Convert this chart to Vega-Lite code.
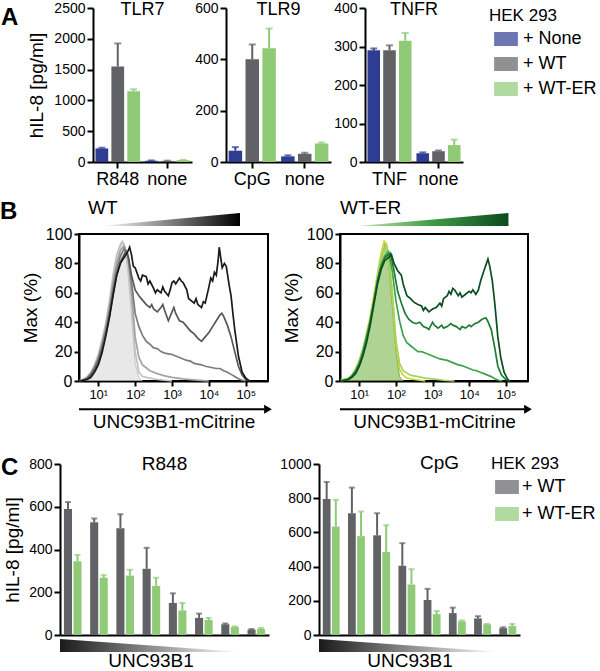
{
"$schema":"https://vega.github.io/schema/vega-lite/v6.json",
"padding":{"left":0,"top":1,"right":0,"bottom":0},
"config":{"font":"Liberation Sans","view":{"stroke":null},
 "axis":{"domainColor":"black","domainWidth":2,"tickColor":"black","tickWidth":2,"tickSize":6,"labelColor":"black","titleColor":"black","grid":false,"labelFontSize":14,"titleFontSize":19,"titleFontWeight":"normal","labelPadding":2,"labelOverlap":false},
 "title":{"fontSize":19,"fontWeight":"normal","color":"black"},
 "legend":{"titleFontSize":17,"titleFontWeight":"normal","labelFontSize":18,"titleColor":"black","labelColor":"black"}},
"datasets":{
"a":[
{"p":"TLR7","stim":"R848","cell":"None","v":220,"e":232},{"p":"TLR7","stim":"R848","cell":"WT","v":1550,"e":1925},{"p":"TLR7","stim":"R848","cell":"WT-ER","v":1150,"e":1180},
{"p":"TLR7","stim":"none","cell":"None","v":20,"e":25},{"p":"TLR7","stim":"none","cell":"WT","v":18,"e":22},{"p":"TLR7","stim":"none","cell":"WT-ER","v":30,"e":35},
{"p":"TLR9","stim":"CpG","cell":"None","v":44,"e":58},{"p":"TLR9","stim":"CpG","cell":"WT","v":400,"e":458},{"p":"TLR9","stim":"CpG","cell":"WT-ER","v":443,"e":520},
{"p":"TLR9","stim":"none","cell":"None","v":22,"e":26},{"p":"TLR9","stim":"none","cell":"WT","v":32,"e":36},{"p":"TLR9","stim":"none","cell":"WT-ER","v":72,"e":76},
{"p":"TNFR","stim":"TNF","cell":"None","v":290,"e":295},{"p":"TNFR","stim":"TNF","cell":"WT","v":290,"e":303},{"p":"TNFR","stim":"TNF","cell":"WT-ER","v":315,"e":335},
{"p":"TNFR","stim":"none","cell":"None","v":23,"e":25},{"p":"TNFR","stim":"none","cell":"WT","v":28,"e":30},{"p":"TNFR","stim":"none","cell":"WT-ER","v":44,"e":58}],
"c":[
{"p":"R848","g":1,"cell":"WT","v":590,"e":622},{"p":"R848","g":1,"cell":"WT-ER","v":345,"e":375},
{"p":"R848","g":2,"cell":"WT","v":528,"e":545},{"p":"R848","g":2,"cell":"WT-ER","v":268,"e":280},
{"p":"R848","g":3,"cell":"WT","v":500,"e":565},{"p":"R848","g":3,"cell":"WT-ER","v":278,"e":305},
{"p":"R848","g":4,"cell":"WT","v":310,"e":408},{"p":"R848","g":4,"cell":"WT-ER","v":230,"e":268},
{"p":"R848","g":5,"cell":"WT","v":150,"e":195},{"p":"R848","g":5,"cell":"WT-ER","v":115,"e":150},
{"p":"R848","g":6,"cell":"WT","v":80,"e":100},{"p":"R848","g":6,"cell":"WT-ER","v":70,"e":80},
{"p":"R848","g":7,"cell":"WT","v":50,"e":54},{"p":"R848","g":7,"cell":"WT-ER","v":37,"e":40},
{"p":"R848","g":8,"cell":"WT","v":25,"e":28},{"p":"R848","g":8,"cell":"WT-ER","v":28,"e":33},
{"p":"CpG","g":1,"cell":"WT","v":795,"e":895},{"p":"CpG","g":1,"cell":"WT-ER","v":635,"e":790},
{"p":"CpG","g":2,"cell":"WT","v":712,"e":862},{"p":"CpG","g":2,"cell":"WT-ER","v":578,"e":722},
{"p":"CpG","g":3,"cell":"WT","v":583,"e":712},{"p":"CpG","g":3,"cell":"WT-ER","v":485,"e":642},
{"p":"CpG","g":4,"cell":"WT","v":405,"e":537},{"p":"CpG","g":4,"cell":"WT-ER","v":295,"e":385},
{"p":"CpG","g":5,"cell":"WT","v":205,"e":270},{"p":"CpG","g":5,"cell":"WT-ER","v":122,"e":140},
{"p":"CpG","g":6,"cell":"WT","v":128,"e":160},{"p":"CpG","g":6,"cell":"WT-ER","v":80,"e":85},
{"p":"CpG","g":7,"cell":"WT","v":97,"e":110},{"p":"CpG","g":7,"cell":"WT-ER","v":62,"e":65},
{"p":"CpG","g":8,"cell":"WT","v":40,"e":45},{"p":"CpG","g":8,"cell":"WT-ER","v":52,"e":65}],
"wt":[
{"s":"c0","x":3.16,"y":0},{"s":"c0","x":3.98,"y":0.5},{"s":"c0","x":5.01,"y":2},{"s":"c0","x":6.31,"y":5},{"s":"c0","x":7.94,"y":10},{"s":"c0","x":10,"y":17},{"s":"c0","x":12.6,"y":26},{"s":"c0","x":15.8,"y":36},{"s":"c0","x":20,"y":50},{"s":"c0","x":25.1,"y":68},{"s":"c0","x":31.6,"y":82},{"s":"c0","x":39.8,"y":91},{"s":"c0","x":44.7,"y":94},{"s":"c0","x":50.1,"y":92},{"s":"c0","x":63.1,"y":75},{"s":"c0","x":79.4,"y":45},{"s":"c0","x":100,"y":12},{"s":"c0","x":126,"y":2},{"s":"c0","x":158,"y":0},
{"s":"c1","x":3.16,"y":0.5},{"s":"c1","x":3.98,"y":1},{"s":"c1","x":5.01,"y":3},{"s":"c1","x":6.31,"y":6},{"s":"c1","x":7.94,"y":11},{"s":"c1","x":10,"y":18},{"s":"c1","x":12.6,"y":28},{"s":"c1","x":15.8,"y":39},{"s":"c1","x":20,"y":54},{"s":"c1","x":25.1,"y":72},{"s":"c1","x":31.6,"y":86},{"s":"c1","x":39.8,"y":93},{"s":"c1","x":44.7,"y":95},{"s":"c1","x":50.1,"y":93},{"s":"c1","x":63.1,"y":80},{"s":"c1","x":79.4,"y":55},{"s":"c1","x":100,"y":20},{"s":"c1","x":126,"y":6},{"s":"c1","x":158,"y":3},{"s":"c1","x":251,"y":2},{"s":"c1","x":398,"y":1},{"s":"c1","x":631,"y":0.5},{"s":"c1","x":1000,"y":0},
{"s":"c2","x":3.16,"y":0},{"s":"c2","x":3.98,"y":1},{"s":"c2","x":5.01,"y":2},{"s":"c2","x":6.31,"y":5},{"s":"c2","x":7.94,"y":10},{"s":"c2","x":10,"y":16},{"s":"c2","x":12.6,"y":25},{"s":"c2","x":15.8,"y":36},{"s":"c2","x":20,"y":50},{"s":"c2","x":25.1,"y":67},{"s":"c2","x":31.6,"y":80},{"s":"c2","x":39.8,"y":89},{"s":"c2","x":50.1,"y":92},{"s":"c2","x":63.1,"y":86},{"s":"c2","x":79.4,"y":62},{"s":"c2","x":100,"y":30},{"s":"c2","x":126,"y":16},{"s":"c2","x":158,"y":11},{"s":"c2","x":200,"y":9},{"s":"c2","x":251,"y":7},{"s":"c2","x":398,"y":5},{"s":"c2","x":631,"y":3.5},{"s":"c2","x":1000,"y":2.5},{"s":"c2","x":1995,"y":1.5},{"s":"c2","x":3981,"y":0.7},{"s":"c2","x":10000,"y":0},
{"s":"c3","x":3.16,"y":0},{"s":"c3","x":3.98,"y":1},{"s":"c3","x":5.01,"y":2},{"s":"c3","x":6.31,"y":5},{"s":"c3","x":7.94,"y":9},{"s":"c3","x":10,"y":15},{"s":"c3","x":12.6,"y":24},{"s":"c3","x":15.8,"y":34},{"s":"c3","x":20,"y":47},{"s":"c3","x":25.1,"y":63},{"s":"c3","x":31.6,"y":76},{"s":"c3","x":39.8,"y":85},{"s":"c3","x":50.1,"y":90},{"s":"c3","x":63.1,"y":86},{"s":"c3","x":79.4,"y":68},{"s":"c3","x":100,"y":46},{"s":"c3","x":126,"y":37},{"s":"c3","x":158,"y":31},{"s":"c3","x":200,"y":27},{"s":"c3","x":251,"y":25},{"s":"c3","x":316,"y":22.5},{"s":"c3","x":398,"y":22},{"s":"c3","x":501,"y":20},{"s":"c3","x":631,"y":19},{"s":"c3","x":794,"y":18.5},{"s":"c3","x":1000,"y":18},{"s":"c3","x":1259,"y":17},{"s":"c3","x":1585,"y":16},{"s":"c3","x":1995,"y":15},{"s":"c3","x":2512,"y":14},{"s":"c3","x":3162,"y":13.5},{"s":"c3","x":3981,"y":12},{"s":"c3","x":5012,"y":11.5},{"s":"c3","x":6310,"y":11},{"s":"c3","x":7943,"y":10},{"s":"c3","x":10000,"y":9.5},{"s":"c3","x":12589,"y":9},{"s":"c3","x":15849,"y":8.5},{"s":"c3","x":19953,"y":8.5},{"s":"c3","x":25119,"y":7},{"s":"c3","x":31623,"y":6},{"s":"c3","x":39811,"y":4.5},{"s":"c3","x":50119,"y":3},{"s":"c3","x":63096,"y":1.5},{"s":"c3","x":79433,"y":0.5},{"s":"c3","x":100000,"y":0},
{"s":"c4","x":3.16,"y":0},{"s":"c4","x":3.98,"y":0.5},{"s":"c4","x":5.01,"y":1.5},{"s":"c4","x":6.31,"y":4},{"s":"c4","x":7.94,"y":8},{"s":"c4","x":10,"y":13},{"s":"c4","x":12.6,"y":21},{"s":"c4","x":15.8,"y":31},{"s":"c4","x":20,"y":44},{"s":"c4","x":25.1,"y":59},{"s":"c4","x":31.6,"y":72},{"s":"c4","x":39.8,"y":81},{"s":"c4","x":50.1,"y":86},{"s":"c4","x":56.2,"y":88},{"s":"c4","x":66.1,"y":84},{"s":"c4","x":79.4,"y":72},{"s":"c4","x":100,"y":62},{"s":"c4","x":126,"y":58},{"s":"c4","x":158,"y":55},{"s":"c4","x":200,"y":52},{"s":"c4","x":251,"y":50},{"s":"c4","x":282,"y":52},{"s":"c4","x":316,"y":49},{"s":"c4","x":398,"y":47},{"s":"c4","x":501,"y":50},{"s":"c4","x":562,"y":52},{"s":"c4","x":631,"y":48},{"s":"c4","x":794,"y":41},{"s":"c4","x":1000,"y":47},{"s":"c4","x":1122,"y":50},{"s":"c4","x":1259,"y":46},{"s":"c4","x":1585,"y":41},{"s":"c4","x":1995,"y":40},{"s":"c4","x":2512,"y":37},{"s":"c4","x":3162,"y":34},{"s":"c4","x":3981,"y":32},{"s":"c4","x":5012,"y":29},{"s":"c4","x":6310,"y":27},{"s":"c4","x":7943,"y":30},{"s":"c4","x":10000,"y":33},{"s":"c4","x":12589,"y":37},{"s":"c4","x":15849,"y":41},{"s":"c4","x":19953,"y":45},{"s":"c4","x":22387,"y":46},{"s":"c4","x":25119,"y":44},{"s":"c4","x":31623,"y":38},{"s":"c4","x":39811,"y":30},{"s":"c4","x":50119,"y":20},{"s":"c4","x":63096,"y":10},{"s":"c4","x":79433,"y":4},{"s":"c4","x":100000,"y":1},{"s":"c4","x":125893,"y":0},
{"s":"c5","x":3.16,"y":0},{"s":"c5","x":3.98,"y":0.5},{"s":"c5","x":5.01,"y":1},{"s":"c5","x":6.31,"y":2.5},{"s":"c5","x":7.94,"y":6},{"s":"c5","x":10,"y":11},{"s":"c5","x":12.6,"y":19},{"s":"c5","x":15.8,"y":30},{"s":"c5","x":20,"y":43},{"s":"c5","x":25.1,"y":58},{"s":"c5","x":31.6,"y":72},{"s":"c5","x":39.8,"y":80},{"s":"c5","x":50.1,"y":84},{"s":"c5","x":63.1,"y":88},{"s":"c5","x":70.8,"y":91},{"s":"c5","x":79.4,"y":86},{"s":"c5","x":89.1,"y":78},{"s":"c5","x":100,"y":77},{"s":"c5","x":126,"y":70},{"s":"c5","x":141,"y":68},{"s":"c5","x":158,"y":72},{"s":"c5","x":200,"y":71},{"s":"c5","x":224,"y":66},{"s":"c5","x":251,"y":68},{"s":"c5","x":316,"y":63},{"s":"c5","x":355,"y":60},{"s":"c5","x":398,"y":62},{"s":"c5","x":501,"y":60},{"s":"c5","x":562,"y":64},{"s":"c5","x":631,"y":61},{"s":"c5","x":794,"y":58},{"s":"c5","x":891,"y":62},{"s":"c5","x":1000,"y":67},{"s":"c5","x":1122,"y":68},{"s":"c5","x":1259,"y":66},{"s":"c5","x":1585,"y":70},{"s":"c5","x":1778,"y":68},{"s":"c5","x":1995,"y":67},{"s":"c5","x":2512,"y":62},{"s":"c5","x":2818,"y":56},{"s":"c5","x":3162,"y":55},{"s":"c5","x":3981,"y":53},{"s":"c5","x":4467,"y":56},{"s":"c5","x":5012,"y":52},{"s":"c5","x":6310,"y":50},{"s":"c5","x":7079,"y":54},{"s":"c5","x":7943,"y":53},{"s":"c5","x":10000,"y":64},{"s":"c5","x":11220,"y":70},{"s":"c5","x":12589,"y":68},{"s":"c5","x":14125,"y":74},{"s":"c5","x":15849,"y":72},{"s":"c5","x":17783,"y":82},{"s":"c5","x":19055,"y":91},{"s":"c5","x":20893,"y":84},{"s":"c5","x":22909,"y":77},{"s":"c5","x":26303,"y":80},{"s":"c5","x":29512,"y":78},{"s":"c5","x":35481,"y":65},{"s":"c5","x":39811,"y":58},{"s":"c5","x":44668,"y":46},{"s":"c5","x":50119,"y":35},{"s":"c5","x":63096,"y":17},{"s":"c5","x":79433,"y":6},{"s":"c5","x":100000,"y":2},{"s":"c5","x":125893,"y":0}],
"wter":[
{"s":"g0","x":3.16,"y":0},{"s":"g0","x":3.98,"y":0.5},{"s":"g0","x":5.01,"y":1.5},{"s":"g0","x":6.31,"y":4},{"s":"g0","x":7.94,"y":8},{"s":"g0","x":10,"y":14},{"s":"g0","x":12.6,"y":22},{"s":"g0","x":15.8,"y":32},{"s":"g0","x":20,"y":42},{"s":"g0","x":25.1,"y":55},{"s":"g0","x":31.6,"y":70},{"s":"g0","x":39.8,"y":83},{"s":"g0","x":50.1,"y":93},{"s":"g0","x":56.2,"y":91},{"s":"g0","x":63.1,"y":80},{"s":"g0","x":79.4,"y":52},{"s":"g0","x":100,"y":20},{"s":"g0","x":126,"y":3},{"s":"g0","x":158,"y":0},
{"s":"g1","x":3.16,"y":0.5},{"s":"g1","x":5.01,"y":2},{"s":"g1","x":6.31,"y":4},{"s":"g1","x":7.94,"y":8},{"s":"g1","x":10,"y":14},{"s":"g1","x":12.6,"y":22},{"s":"g1","x":15.8,"y":32},{"s":"g1","x":20,"y":44},{"s":"g1","x":25.1,"y":58},{"s":"g1","x":31.6,"y":73},{"s":"g1","x":39.8,"y":87},{"s":"g1","x":47.9,"y":95},{"s":"g1","x":56.2,"y":93},{"s":"g1","x":63.1,"y":85},{"s":"g1","x":79.4,"y":60},{"s":"g1","x":100,"y":25},{"s":"g1","x":126,"y":8},{"s":"g1","x":158,"y":4},{"s":"g1","x":200,"y":2},{"s":"g1","x":316,"y":1},{"s":"g1","x":631,"y":0},
{"s":"g2","x":3.16,"y":0.5},{"s":"g2","x":5.01,"y":1.5},{"s":"g2","x":6.31,"y":3.5},{"s":"g2","x":7.94,"y":7},{"s":"g2","x":10,"y":13},{"s":"g2","x":12.6,"y":21},{"s":"g2","x":15.8,"y":31},{"s":"g2","x":20,"y":42},{"s":"g2","x":25.1,"y":56},{"s":"g2","x":31.6,"y":71},{"s":"g2","x":39.8,"y":84},{"s":"g2","x":52.5,"y":92},{"s":"g2","x":63.1,"y":86},{"s":"g2","x":79.4,"y":62},{"s":"g2","x":100,"y":28},{"s":"g2","x":126,"y":12},{"s":"g2","x":158,"y":7},{"s":"g2","x":251,"y":4},{"s":"g2","x":398,"y":3},{"s":"g2","x":631,"y":2},{"s":"g2","x":1000,"y":1.5},{"s":"g2","x":1995,"y":0.5},{"s":"g2","x":3981,"y":0},
{"s":"g3","x":3.16,"y":0},{"s":"g3","x":3.98,"y":0.5},{"s":"g3","x":5.01,"y":1.5},{"s":"g3","x":6.31,"y":3.5},{"s":"g3","x":7.94,"y":7},{"s":"g3","x":10,"y":12},{"s":"g3","x":12.6,"y":20},{"s":"g3","x":15.8,"y":30},{"s":"g3","x":20,"y":41},{"s":"g3","x":25.1,"y":54},{"s":"g3","x":31.6,"y":68},{"s":"g3","x":39.8,"y":79},{"s":"g3","x":50.1,"y":85},{"s":"g3","x":63.1,"y":88},{"s":"g3","x":79.4,"y":75},{"s":"g3","x":100,"y":55},{"s":"g3","x":126,"y":41},{"s":"g3","x":158,"y":31},{"s":"g3","x":200,"y":26},{"s":"g3","x":251,"y":24},{"s":"g3","x":316,"y":22},{"s":"g3","x":398,"y":20},{"s":"g3","x":501,"y":20},{"s":"g3","x":631,"y":19},{"s":"g3","x":794,"y":18},{"s":"g3","x":1000,"y":17},{"s":"g3","x":1259,"y":16},{"s":"g3","x":1585,"y":15},{"s":"g3","x":1995,"y":14.5},{"s":"g3","x":2512,"y":14},{"s":"g3","x":3162,"y":13},{"s":"g3","x":3981,"y":12},{"s":"g3","x":5012,"y":11},{"s":"g3","x":6310,"y":10.5},{"s":"g3","x":7943,"y":9.5},{"s":"g3","x":10000,"y":8.5},{"s":"g3","x":12589,"y":7.5},{"s":"g3","x":15849,"y":7},{"s":"g3","x":19953,"y":6},{"s":"g3","x":25119,"y":5},{"s":"g3","x":31623,"y":4},{"s":"g3","x":39811,"y":3},{"s":"g3","x":50119,"y":1.5},{"s":"g3","x":63096,"y":0.5},{"s":"g3","x":79433,"y":0},
{"s":"g4","x":3.16,"y":0},{"s":"g4","x":3.98,"y":0.5},{"s":"g4","x":5.01,"y":1},{"s":"g4","x":6.31,"y":3},{"s":"g4","x":7.94,"y":6},{"s":"g4","x":10,"y":11},{"s":"g4","x":12.6,"y":18},{"s":"g4","x":15.8,"y":28},{"s":"g4","x":20,"y":40},{"s":"g4","x":25.1,"y":54},{"s":"g4","x":31.6,"y":68},{"s":"g4","x":39.8,"y":78},{"s":"g4","x":50.1,"y":84},{"s":"g4","x":70.8,"y":87},{"s":"g4","x":89.1,"y":75},{"s":"g4","x":112,"y":61},{"s":"g4","x":141,"y":53},{"s":"g4","x":178,"y":46},{"s":"g4","x":224,"y":42},{"s":"g4","x":282,"y":40},{"s":"g4","x":355,"y":39},{"s":"g4","x":447,"y":40},{"s":"g4","x":562,"y":37},{"s":"g4","x":708,"y":36},{"s":"g4","x":794,"y":35},{"s":"g4","x":1000,"y":40},{"s":"g4","x":1122,"y":38},{"s":"g4","x":1413,"y":36},{"s":"g4","x":1778,"y":38},{"s":"g4","x":1995,"y":36},{"s":"g4","x":2512,"y":37},{"s":"g4","x":3162,"y":39},{"s":"g4","x":3548,"y":38},{"s":"g4","x":4467,"y":37},{"s":"g4","x":5623,"y":35},{"s":"g4","x":6310,"y":37},{"s":"g4","x":7943,"y":36},{"s":"g4","x":10000,"y":38},{"s":"g4","x":11220,"y":37},{"s":"g4","x":14125,"y":39},{"s":"g4","x":17783,"y":40},{"s":"g4","x":22387,"y":42},{"s":"g4","x":28184,"y":43},{"s":"g4","x":31623,"y":41},{"s":"g4","x":39811,"y":35},{"s":"g4","x":50119,"y":22},{"s":"g4","x":60256,"y":10},{"s":"g4","x":75858,"y":4},{"s":"g4","x":100000,"y":1},{"s":"g4","x":125893,"y":0},
{"s":"g5","x":3.16,"y":0},{"s":"g5","x":5.01,"y":1},{"s":"g5","x":6.31,"y":2.5},{"s":"g5","x":7.94,"y":5},{"s":"g5","x":10,"y":10},{"s":"g5","x":12.6,"y":17},{"s":"g5","x":15.8,"y":26},{"s":"g5","x":20,"y":38},{"s":"g5","x":25.1,"y":52},{"s":"g5","x":31.6,"y":66},{"s":"g5","x":39.8,"y":76},{"s":"g5","x":50.1,"y":82},{"s":"g5","x":63.1,"y":84},{"s":"g5","x":75.9,"y":86},{"s":"g5","x":89.1,"y":80},{"s":"g5","x":112,"y":75},{"s":"g5","x":141,"y":72},{"s":"g5","x":158,"y":66},{"s":"g5","x":200,"y":58},{"s":"g5","x":251,"y":56},{"s":"g5","x":316,"y":53.5},{"s":"g5","x":398,"y":52},{"s":"g5","x":501,"y":51},{"s":"g5","x":562,"y":48},{"s":"g5","x":631,"y":50},{"s":"g5","x":794,"y":47},{"s":"g5","x":1000,"y":49},{"s":"g5","x":1259,"y":50},{"s":"g5","x":1585,"y":53},{"s":"g5","x":1778,"y":51},{"s":"g5","x":1995,"y":56},{"s":"g5","x":2512,"y":58},{"s":"g5","x":2818,"y":61},{"s":"g5","x":3162,"y":59},{"s":"g5","x":3548,"y":63},{"s":"g5","x":3981,"y":62},{"s":"g5","x":5012,"y":58},{"s":"g5","x":5623,"y":60},{"s":"g5","x":6310,"y":57},{"s":"g5","x":7943,"y":59},{"s":"g5","x":10000,"y":61},{"s":"g5","x":11220,"y":60},{"s":"g5","x":12589,"y":62},{"s":"g5","x":15136,"y":59},{"s":"g5","x":17783,"y":62},{"s":"g5","x":20417,"y":68},{"s":"g5","x":25119,"y":75},{"s":"g5","x":29512,"y":80},{"s":"g5","x":32359,"y":83},{"s":"g5","x":36308,"y":78},{"s":"g5","x":42658,"y":68},{"s":"g5","x":50119,"y":52},{"s":"g5","x":60256,"y":30},{"s":"g5","x":72444,"y":16},{"s":"g5","x":89125,"y":6},{"s":"g5","x":112202,"y":1},{"s":"g5","x":125893,"y":0}]
},
"resolve":{"scale":{"x":"independent","y":"independent","color":"independent","xOffset":"independent"}},
"columns":1,"align":"none","spacing":11,
"concat":[
{"title":{"text":"A","orient":"top","anchor":"start","frame":"bounds","fontSize":24,"fontWeight":"bold","baseline":"top","offset":-29,"dx":1},
 "spacing":26,
 "resolve":{"scale":{"x":"independent","y":"independent","color":"independent","xOffset":"independent"}},
 "hconcat":[
 {"width":1,"height":1,"data":{"values":[{}]},"mark":{"type":"point","opacity":0,"size":1},"encoding":{}},
 {"bounds":"flush","spacing":34,
  "resolve":{"scale":{"x":"independent","y":"independent","color":"independent","xOffset":"independent"}},
  "hconcat":[
  {"width":99,"height":154,"data":{"name":"a"},"transform":[{"filter":"datum.p=='TLR7'"}],
   "title":{"text":"TLR7","frame":"group","offset":-32,"baseline":"alphabetic","fontSize":18},
   "encoding":{"x":{"field":"stim","type":"nominal","sort":null,"scale":{"paddingInner":0.1,"paddingOuter":0.05},"axis":{"title":null,"labelAngle":0,"labelFontSize":18}},
    "xOffset":{"field":"cell","type":"nominal","sort":["None","WT","WT-ER"],"scale":{"paddingInner":0.2}},
    "color":{"field":"cell","type":"nominal","scale":{"domain":["None","WT","WT-ER"],"range":["#2e3d92","#616265","#8fca77"]},"legend":null}},
   "layer":[
    {"mark":"bar","encoding":{"y":{"field":"v","type":"quantitative","scale":{"domain":[0,2500],"nice":false},"axis":{"values":[0,500,1000,1500,2000,2500],"format":"d","title":"hIL-8 [pg/ml]","titlePadding":7}}}},
    {"mark":{"type":"rule","strokeWidth":2},"encoding":{"y":{"field":"v","type":"quantitative","axis":{"values":[0,500,1000,1500,2000,2500],"format":"d","title":"hIL-8 [pg/ml]","titlePadding":7}},"y2":{"field":"e"}}},
    {"mark":{"type":"tick","thickness":2,"size":7},"encoding":{"y":{"field":"e","type":"quantitative","axis":{"values":[0,500,1000,1500,2000,2500],"format":"d","title":"hIL-8 [pg/ml]","titlePadding":7}}}}]},
  {"width":105,"height":154,"data":{"name":"a"},"transform":[{"filter":"datum.p=='TLR9'"}],
   "title":{"text":"TLR9","frame":"group","offset":-32,"baseline":"alphabetic","fontSize":18},
   "encoding":{"x":{"field":"stim","type":"nominal","sort":null,"scale":{"paddingInner":0.1,"paddingOuter":0.05},"axis":{"title":null,"labelAngle":0,"labelFontSize":18}},
    "xOffset":{"field":"cell","type":"nominal","sort":["None","WT","WT-ER"],"scale":{"paddingInner":0.2}},
    "color":{"field":"cell","type":"nominal","scale":{"domain":["None","WT","WT-ER"],"range":["#2e3d92","#616265","#8fca77"]},"legend":null}},
   "layer":[
    {"mark":"bar","encoding":{"y":{"field":"v","type":"quantitative","scale":{"domain":[0,600],"nice":false},"axis":{"values":[0,200,400,600],"format":"d","title":null}}}},
    {"mark":{"type":"rule","strokeWidth":2},"encoding":{"y":{"field":"v","type":"quantitative","axis":{"values":[0,200,400,600],"format":"d","title":null}},"y2":{"field":"e"}}},
    {"mark":{"type":"tick","thickness":2,"size":7},"encoding":{"y":{"field":"e","type":"quantitative","axis":{"values":[0,200,400,600],"format":"d","title":null}}}}]},
  {"width":98,"height":154,"data":{"name":"a"},"transform":[{"filter":"datum.p=='TNFR'"}],
   "title":{"text":"TNFR","frame":"group","offset":-32,"baseline":"alphabetic","fontSize":18},
   "encoding":{"x":{"field":"stim","type":"nominal","sort":null,"scale":{"paddingInner":0.1,"paddingOuter":0.05},"axis":{"title":null,"labelAngle":0,"labelFontSize":18}},
    "xOffset":{"field":"cell","type":"nominal","sort":["None","WT","WT-ER"],"scale":{"paddingInner":0.2}},
    "color":{"field":"cell","type":"nominal","scale":{"domain":["None","WT","WT-ER"],"range":["#2e3d92","#616265","#8fca77"]},
      "legend":{"title":"HEK 293","orient":"right","offset":26,"symbolType":"M-1.7,-1H1.7V1H-1.7Z","symbolSize":196,"symbolStrokeWidth":0,"symbolOffset":8,"rowPadding":7,"labelOffset":8,"labelLimit":200,"labelExpr":"'+ ' + datum.label"}}},
   "layer":[
    {"mark":"bar","encoding":{"y":{"field":"v","type":"quantitative","scale":{"domain":[0,400],"nice":false},"axis":{"values":[0,100,200,300,400],"format":"d","title":null}}}},
    {"mark":{"type":"rule","strokeWidth":2},"encoding":{"y":{"field":"v","type":"quantitative","axis":{"values":[0,100,200,300,400],"format":"d","title":null}},"y2":{"field":"e"}}},
    {"mark":{"type":"tick","thickness":2,"size":7},"encoding":{"y":{"field":"e","type":"quantitative","axis":{"values":[0,100,200,300,400],"format":"d","title":null}}}}]}
  ]}
 ]},
{"title":{"text":"B","orient":"top","anchor":"start","frame":"bounds","fontSize":24,"fontWeight":"bold","baseline":"top","offset":-25,"dx":0},
 "spacing":19,
 "resolve":{"scale":{"x":"independent","y":"independent","color":"independent"}},
 "hconcat":[
 {"width":1,"height":1,"data":{"values":[{}]},"mark":{"type":"point","opacity":0,"size":1},"encoding":{}},
 {"spacing":9,"resolve":{"scale":{"x":"independent","y":"independent","color":"independent"}},
  "hconcat":[
  {"bounds":"flush","spacing":8,"resolve":{"scale":{"x":"independent","y":"independent","color":"independent"}},
   "vconcat":[
   {"width":189,"height":13,"title":{"text":"WT","anchor":"start","frame":"group","dx":9,"offset":-20,"baseline":"alphabetic","fontSize":19},
    "data":{"values":[{"t":0,"h":0},{"t":1,"h":1}]},
    "mark":{"type":"area","color":{"gradient":"linear","x1":0,"y1":0,"x2":1,"y2":0,"stops":[{"offset":0,"color":"#ffffff"},{"offset":1,"color":"#000000"}]}},
    "encoding":{"x":{"field":"t","type":"quantitative","scale":{"domain":[-0.15,1.2],"nice":false,"zero":false},"axis":null},"y":{"field":"h","type":"quantitative","scale":{"domain":[0,1]},"axis":null}}},
   {"width":189,"height":147,"view":{"stroke":"black","strokeWidth":2},"data":{"name":"wt"},
    "encoding":{"x":{"field":"x","type":"quantitative","scale":{"type":"log","domain":[3,400000],"nice":false},"axis":{"values":[10,100,1000,10000,100000],"labelExpr":"datum.value==10?'10¹':datum.value==100?'10²':datum.value==1000?'10³':datum.value==10000?'10⁴':'10⁵'","labelFontSize":13,"tickSize":5,"title":"UNC93B1-mCitrine","titlePadding":11}},
     "y":{"field":"y","type":"quantitative","scale":{"domain":[0,100]},"axis":{"values":[0,20,40,60,80,100],"labelFontSize":16,"tickSize":5,"title":"Max (%)","titlePadding":5}}},
    "layer":[
     {"transform":[{"filter":"datum.s=='c0'"}],"mark":{"type":"area","color":"#dedede","line":{"color":"#c4c4c4","strokeWidth":1}}},
     {"transform":[{"filter":"datum.s!='c0'"}],"mark":{"type":"line","strokeWidth":1.7},"encoding":{"color":{"field":"s","type":"nominal","scale":{"domain":["c1","c2","c3","c4","c5"],"range":["#c2c2c2","#a3a3a3","#7c7c7c","#575757","#1a1a1a"]},"legend":null}}}]},
   {"width":189,"height":54,"data":{"values":[{}]},
    "layer":[
     {"mark":{"type":"rule","color":"black","strokeWidth":2},"encoding":{"x":{"datum":0,"type":"quantitative","scale":{"domain":[0,1]},"axis":null},"x2":{"datum":0.98},"y":{"datum":0,"type":"quantitative","scale":{"domain":[-1,0.5]},"axis":null}}},
     {"mark":{"type":"point","shape":"triangle-right","filled":true,"color":"black","opacity":1,"size":80},"encoding":{"x":{"datum":1,"type":"quantitative"},"y":{"datum":0,"type":"quantitative"}}}]}
   ]},
  {"bounds":"flush","spacing":8,"resolve":{"scale":{"x":"independent","y":"independent","color":"independent"}},
   "vconcat":[
   {"width":188,"height":13,"title":{"text":"WT-ER","anchor":"start","frame":"group","dx":0,"offset":-20,"baseline":"alphabetic","fontSize":19},
    "data":{"values":[{"t":0,"h":0},{"t":1,"h":1}]},
    "mark":{"type":"area","color":{"gradient":"linear","x1":0,"y1":0,"x2":1,"y2":0,"stops":[{"offset":0,"color":"#c6e6b0"},{"offset":0.5,"color":"#3f9a48"},{"offset":1,"color":"#0b4a1c"}]}},
    "encoding":{"x":{"field":"t","type":"quantitative","scale":{"domain":[-0.12,1.13],"nice":false,"zero":false},"axis":null},"y":{"field":"h","type":"quantitative","scale":{"domain":[0,1]},"axis":null}}},
   {"width":188,"height":147,"view":{"stroke":"black","strokeWidth":2},"data":{"name":"wter"},
    "encoding":{"x":{"field":"x","type":"quantitative","scale":{"type":"log","domain":[3,400000],"nice":false},"axis":{"values":[10,100,1000,10000,100000],"labelExpr":"datum.value==10?'10¹':datum.value==100?'10²':datum.value==1000?'10³':datum.value==10000?'10⁴':'10⁵'","labelFontSize":13,"tickSize":5,"title":"UNC93B1-mCitrine","titlePadding":11}},
     "y":{"field":"y","type":"quantitative","scale":{"domain":[0,100]},"axis":{"values":[0,20,40,60,80,100],"labelFontSize":16,"tickSize":5,"title":"Max (%)","titlePadding":5}}},
    "layer":[
     {"transform":[{"filter":"datum.s=='g0'"}],"mark":{"type":"area","color":"#8dc064","line":{"color":"#7ab04f","strokeWidth":1}}},
     {"transform":[{"filter":"datum.s!='g0'"}],"mark":{"type":"line","strokeWidth":1.7},"encoding":{"color":{"field":"s","type":"nominal","scale":{"domain":["g1","g2","g3","g4","g5"],"range":["#cbd531","#a5d35b","#3ba34a","#1e7b35","#0c4d22"]},"legend":null}}}]},
   {"width":188,"height":54,"data":{"values":[{}]},
    "layer":[
     {"mark":{"type":"rule","color":"black","strokeWidth":2},"encoding":{"x":{"datum":0,"type":"quantitative","scale":{"domain":[0,1]},"axis":null},"x2":{"datum":0.98},"y":{"datum":0,"type":"quantitative","scale":{"domain":[-1,0.5]},"axis":null}}},
     {"mark":{"type":"point","shape":"triangle-right","filled":true,"color":"black","opacity":1,"size":80},"encoding":{"x":{"datum":1,"type":"quantitative"},"y":{"datum":0,"type":"quantitative"}}}]}
   ]}
  ]}
 ]},
{"title":{"text":"C","orient":"top","anchor":"start","frame":"bounds","fontSize":24,"fontWeight":"bold","baseline":"top","offset":-26,"dx":1},
 "spacing":2,
 "resolve":{"scale":{"x":"independent","y":"independent","color":"independent","xOffset":"independent"}},
 "hconcat":[
 {"width":1,"height":1,"data":{"values":[{}]},"mark":{"type":"point","opacity":0,"size":1},"encoding":{}},
 {"spacing":10,"resolve":{"scale":{"x":"independent","y":"independent","color":"independent","xOffset":"independent"}},
  "hconcat":[
  {"bounds":"flush","spacing":4,"resolve":{"scale":{"x":"independent","y":"independent","color":"independent","xOffset":"independent"}},
   "vconcat":[
   {"width":209,"height":171,"data":{"name":"c"},"transform":[{"filter":"datum.p=='R848'"}],
    "title":{"text":"R848","frame":"group","offset":-32,"baseline":"alphabetic","fontSize":19},
    "encoding":{"x":{"field":"g","type":"ordinal","scale":{"paddingInner":0.33,"paddingOuter":0.15},"axis":{"title":null,"labels":false,"ticks":false}},
     "xOffset":{"field":"cell","type":"nominal","sort":["WT","WT-ER"],"scale":{"paddingInner":0.15}},
     "color":{"field":"cell","type":"nominal","scale":{"domain":["WT","WT-ER"],"range":["#616265","#8fca77"]},"legend":null}},
    "layer":[
     {"mark":"bar","encoding":{"y":{"field":"v","type":"quantitative","scale":{"domain":[0,800],"nice":false},"axis":{"values":[0,200,400,600,800],"format":"d","title":"hIL-8 [pg/ml]","titlePadding":6}}}},
     {"mark":{"type":"rule","strokeWidth":2},"encoding":{"y":{"field":"v","type":"quantitative","axis":{"values":[0,200,400,600,800],"format":"d","title":"hIL-8 [pg/ml]","titlePadding":6}},"y2":{"field":"e"}}},
     {"mark":{"type":"tick","thickness":2,"size":6},"encoding":{"y":{"field":"e","type":"quantitative","axis":{"values":[0,200,400,600,800],"format":"d","title":"hIL-8 [pg/ml]","titlePadding":6}}}}]},
   {"width":182,"height":13,"title":{"text":"UNC93B1","orient":"bottom","frame":"group","offset":0,"fontSize":19},
    "data":{"values":[{"t":0,"h":1},{"t":1,"h":0}]},
    "mark":{"type":"area","color":{"gradient":"linear","x1":0,"y1":0,"x2":1,"y2":0,"stops":[{"offset":0,"color":"#1a1a1a"},{"offset":1,"color":"#ffffff"}]}},
    "encoding":{"x":{"field":"t","type":"quantitative","scale":{"domain":[0,1],"nice":false},"axis":null},"y":{"field":"h","type":"quantitative","scale":{"domain":[0,1]},"axis":null}}}
   ]},
  {"bounds":"flush","spacing":4,"resolve":{"scale":{"x":"independent","y":"independent","color":"independent","xOffset":"independent"}},
   "vconcat":[
   {"width":201,"height":171,"data":{"name":"c"},"transform":[{"filter":"datum.p=='CpG'"}],
    "title":{"text":"CpG","frame":"group","offset":-32,"dx":20,"baseline":"alphabetic","fontSize":19},
    "encoding":{"x":{"field":"g","type":"ordinal","scale":{"paddingInner":0.33,"paddingOuter":0.15},"axis":{"title":null,"labels":false,"ticks":false}},
     "xOffset":{"field":"cell","type":"nominal","sort":["WT","WT-ER"],"scale":{"paddingInner":0.15}},
     "color":{"field":"cell","type":"nominal","scale":{"domain":["WT","WT-ER"],"range":["#616265","#8fca77"]},
       "legend":{"title":"HEK 293","orient":"none","legendX":172,"legendY":-8,"symbolType":"M-1.7,-1H1.7V1H-1.7Z","symbolSize":196,"symbolStrokeWidth":0,"symbolOffset":7,"rowPadding":9,"labelOffset":6,"labelLimit":200,"labelExpr":"'+ ' + datum.label"}}},
    "layer":[
     {"mark":"bar","encoding":{"y":{"field":"v","type":"quantitative","scale":{"domain":[0,1000],"nice":false},"axis":{"values":[0,200,400,600,800,1000],"format":"d","title":null}}}},
     {"mark":{"type":"rule","strokeWidth":2},"encoding":{"y":{"field":"v","type":"quantitative","axis":{"values":[0,200,400,600,800,1000],"format":"d","title":null}},"y2":{"field":"e"}}},
     {"mark":{"type":"tick","thickness":2,"size":6},"encoding":{"y":{"field":"e","type":"quantitative","axis":{"values":[0,200,400,600,800,1000],"format":"d","title":null}}}}]},
   {"width":182,"height":13,"title":{"text":"UNC93B1","orient":"bottom","frame":"group","offset":0,"fontSize":19},
    "data":{"values":[{"t":0,"h":1},{"t":1,"h":0}]},
    "mark":{"type":"area","color":{"gradient":"linear","x1":0,"y1":0,"x2":1,"y2":0,"stops":[{"offset":0,"color":"#1a1a1a"},{"offset":1,"color":"#ffffff"}]}},
    "encoding":{"x":{"field":"t","type":"quantitative","scale":{"domain":[0,1],"nice":false},"axis":null},"y":{"field":"h","type":"quantitative","scale":{"domain":[0,1]},"axis":null}}}
   ]}
  ]}
 ]}
]
}
